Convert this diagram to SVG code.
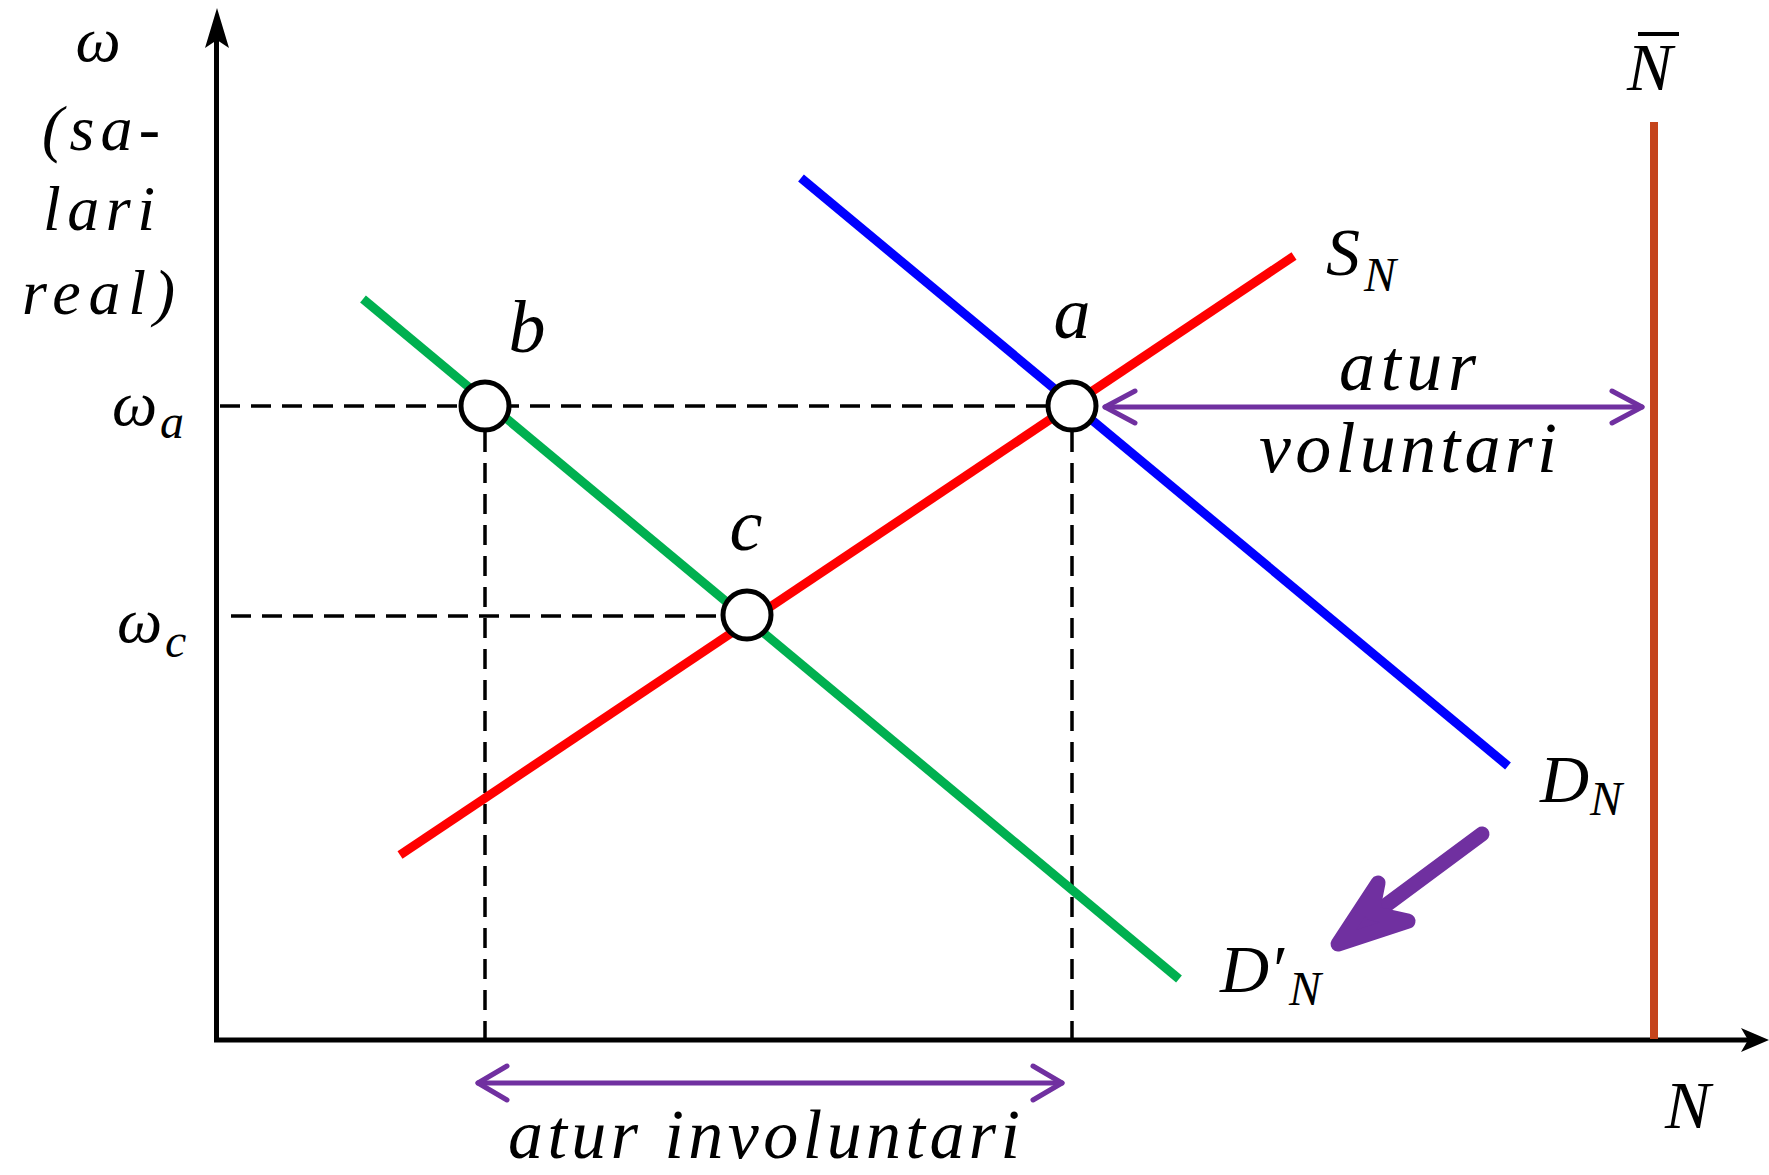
<svg xmlns="http://www.w3.org/2000/svg" width="1769" height="1175" viewBox="0 0 1769 1175">
<style>
.t{font-family:"Liberation Serif","DejaVu Serif",serif;font-style:italic;fill:#000}
.dash{stroke:#000;stroke-width:3.5;stroke-dasharray:20 11;fill:none}
.pt{fill:#fff;stroke:#000;stroke-width:5}
.purple{stroke:#7030A0;stroke-width:5;fill:none;stroke-linecap:round;stroke-linejoin:round}
.curve{stroke-width:9;fill:none}
</style>
<rect width="1769" height="1175" fill="#fff"/>
<g id="axes">
<line x1="216.5" y1="1042" x2="216.5" y2="30" stroke="#000" stroke-width="5"/>
<polygon points="217,8 205,48 217,40 229,48" fill="#000"/>
<line x1="214" y1="1040" x2="1750" y2="1040" stroke="#000" stroke-width="5"/>
<polygon points="1769,1040 1741,1028 1748,1040 1741,1052" fill="#000"/>
</g>
<g id="connectors">
<line class="dash" x1="220" y1="406" x2="1048" y2="406"/>
<line class="dash" x1="231" y1="616" x2="723" y2="616"/>
<line class="dash" x1="485" y1="432" x2="485" y2="1038"/>
<line class="dash" x1="1072" y1="432" x2="1072" y2="1038"/>
</g>
<g id="curve-SN"><line class="curve" x1="400" y1="855" x2="1294" y2="256" stroke="#FF0000"/></g>
<g id="curve-DN"><line class="curve" x1="801" y1="178" x2="1508" y2="766" stroke="#0000FF"/></g>
<g id="curve-DpN"><line class="curve" x1="363" y1="299" x2="1179" y2="979" stroke="#00B050"/></g>
<g id="Nbar-line"><line x1="1654" y1="122" x2="1654" y2="1039" stroke="#C5441C" stroke-width="8"/></g>
<g id="point-a"><circle class="pt" cx="1072" cy="406" r="24"/></g>
<g id="point-b"><circle class="pt" cx="485" cy="406" r="24"/></g>
<g id="point-c"><circle class="pt" cx="747" cy="615" r="24"/></g>
<g id="arrow-voluntari">
<line class="purple" x1="1105" y1="407" x2="1642" y2="407"/>
<polyline class="purple" points="1135,391 1105,407 1135,423"/>
<polyline class="purple" points="1612,391 1642,407 1612,423"/>
</g>
<g id="arrow-involuntari">
<line class="purple" x1="478" y1="1083" x2="1062" y2="1083"/>
<polyline class="purple" points="507,1066 478,1083 507,1100"/>
<polyline class="purple" points="1033,1066 1062,1083 1033,1100"/>
</g>
<g id="arrow-shift">
<line x1="1482" y1="834" x2="1362" y2="923" stroke="#7030A0" stroke-width="15" stroke-linecap="round"/>
<path d="M1338,944 L1378,883 L1372,913 L1408,921 Z" fill="#7030A0" stroke="#7030A0" stroke-width="15" stroke-linejoin="round"/>
</g>
<g id="labels">
<text class="t" x="98" y="61" font-size="64" text-anchor="middle">ω</text>
<text class="t" x="42" y="150" font-size="64" textLength="118" lengthAdjust="spacing">(sa-</text>
<text class="t" x="43" y="230" font-size="64" textLength="112" lengthAdjust="spacing">lari</text>
<text class="t" x="22" y="314" font-size="64" textLength="153" lengthAdjust="spacing">real)</text>
<text class="t" x="112" y="425" font-size="64">ω<tspan x="160" y="438" font-size="48">a</tspan></text>
<text class="t" x="117" y="642" font-size="64">ω<tspan x="165" y="657" font-size="48">c</tspan></text>
<text class="t" x="527" y="352" font-size="74" text-anchor="middle">b</text>
<text class="t" x="1072" y="338" font-size="74" text-anchor="middle">a</text>
<text class="t" x="746" y="550" font-size="74" text-anchor="middle">c</text>
<text class="t" x="1326" y="275" font-size="68">S<tspan x="1364" y="291" font-size="48">N</tspan></text>
<text class="t" x="1540" y="802" font-size="68">D<tspan x="1590" y="815" font-size="48">N</tspan></text>
<text class="t" x="1220" y="992" font-size="68">D′<tspan x="1289" y="1005" font-size="48">N</tspan></text>
<text class="t" x="1665" y="1128" font-size="68">N</text>
<text class="t" x="1627" y="90" font-size="68">N</text>
<line x1="1638" y1="34" x2="1679" y2="34" stroke="#000" stroke-width="4"/>
<text class="t" x="1339" y="390" font-size="72" textLength="137" lengthAdjust="spacing">atur</text>
<text class="t" x="1259" y="472" font-size="72" textLength="298" lengthAdjust="spacing">voluntari</text>
<text class="t" x="508" y="1158" font-size="70" textLength="512" lengthAdjust="spacing">atur involuntari</text>
</g>
</svg>
